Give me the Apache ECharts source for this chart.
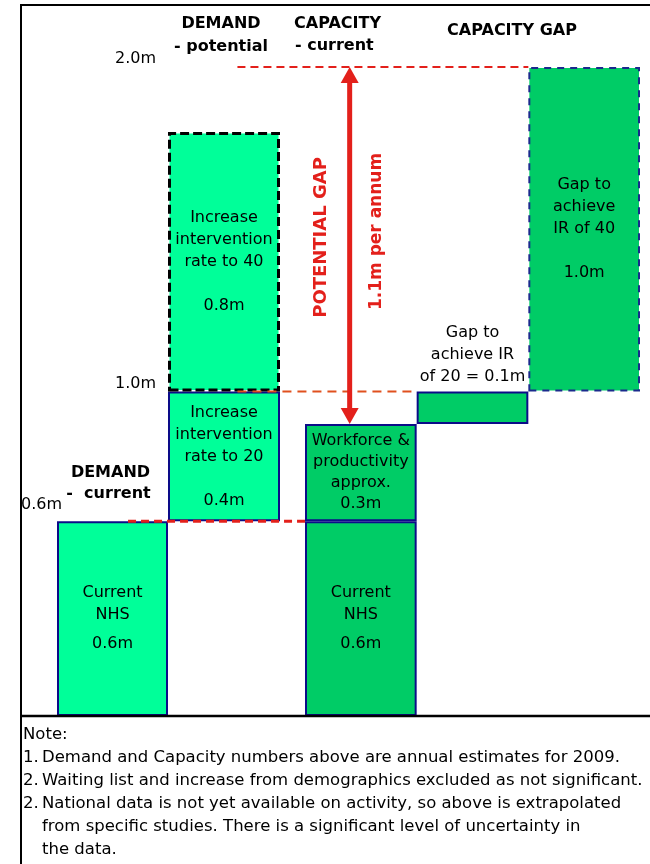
<!DOCTYPE html>
<html>
<head>
<meta charset="utf-8">
<script src="https://cdn.jsdelivr.net/npm/echarts@6/dist/echarts.min.js"></script>
<style>
  html, body { margin: 0; padding: 0; background: #fff; }
  #chart { width: 650px; height: 864px; }
</style>
</head>
<body>
<div id="chart"></div>
<script>
// Demand: current NHS activity, then the extra needed for intervention rates of 20 and 40
const demandCategories = ['Demand current', 'Demand potential'];
const demandSteps = ['Current NHS', 'Increase intervention rate to 20', 'Increase intervention rate to 40'];
const demandValues = [0.6, 0.4, 0.8];

// Capacity: current NHS, workforce & productivity, then the gaps to IR 20 and IR 40
const capacityCategories = ['Capacity current', 'Gap to IR 20', 'Gap to IR 40'];
const capacitySteps = ['Current NHS', 'Workforce & productivity', 'Gap to achieve IR of 20', 'Gap to achieve IR of 40'];
const capacityValues = [0.6, 0.3, 0.1, 1.0];

// Potential gap between current capacity and potential demand (per annum)
const potentialGap = [1.1];

// Tick labels on the value scale
const demandTicks = [0.6];
const potentialTicks = [1.0, 2.0];
const axisMax = 2.0;

const FONT = '"DejaVu Sans", "Liberation Sans", Arial, sans-serif';
const MINT = '#00FF99';
const GREEN = '#00CC66';
const NAVY = '#0C0C88';
const RED = '#E3201B';
const ORANGE = '#E0501E';

const GRID_TOP = 67;
const GRID_BOTTOM = 148;
const grids = [
  { left: 57, width: 111, top: GRID_TOP, bottom: GRID_BOTTOM },
  { left: 168, width: 112, top: GRID_TOP, bottom: GRID_BOTTOM },
  { left: 305, width: 335, top: GRID_TOP, bottom: GRID_BOTTOM }
];

const fmt = v => Number(v).toFixed(1) + 'm';

const labelBase = {
  show: true,
  position: 'inside',
  color: '#000',
  fontFamily: FONT,
  fontSize: 16,
  lineHeight: 22,
  rich: { half: { fontSize: 6, lineHeight: 7 } }
};

function barLabel(lines, sep, extra) {
  return Object.assign({}, labelBase, {
    formatter: p => lines.join('\n') + sep + fmt(p.value)
  }, extra || {});
}

const yBase = {
  type: 'value', min: 0, max: axisMax,
  axisLine: { show: false }, axisTick: { show: false }, splitLine: { show: false }
};
const tickLabel = { color: '#000', fontFamily: FONT, fontSize: 16, verticalAlign: 'bottom', formatter: fmt };

// Cumulative bases for the floating steps
const demandBase = [demandValues[0]];
const capacityBase = [
  0,
  capacityValues[0] + capacityValues[1],
  capacityValues[0] + capacityValues[1] + capacityValues[2]
];

const hidden = { color: 'transparent', borderWidth: 0 };

const option = {
  animation: false,
  backgroundColor: '#fff',
  grid: grids.map(g => Object.assign({ outerBoundsMode: 'none', containLabel: false }, g)),
  xAxis: [
    { type: 'category', gridIndex: 0, data: [demandCategories[0]], show: false },
    { type: 'category', gridIndex: 1, data: [demandCategories[1]], show: false },
    { type: 'category', gridIndex: 2, data: capacityCategories, show: false }
  ],
  yAxis: [
    Object.assign({}, yBase, { gridIndex: 0,
      axisLabel: Object.assign({}, tickLabel, { customValues: demandTicks, margin: -5, padding: [0, 0, 8, 0] }) }),
    Object.assign({}, yBase, { gridIndex: 1,
      axisLabel: Object.assign({}, tickLabel, { customValues: potentialTicks, margin: 12 }) }),
    Object.assign({}, yBase, { gridIndex: 2, axisLabel: { show: false } })
  ],
  series: [
    // Demand - current
    {
      type: 'bar', name: demandSteps[0], xAxisIndex: 0, yAxisIndex: 0, barWidth: '100%',
      data: [demandValues[0]],
      itemStyle: { color: MINT, borderColor: NAVY, borderWidth: 2 },
      label: barLabel(['Current', 'NHS'], '\n{half| }\n')
    },
    // Demand - potential (floating on top of current demand)
    {
      type: 'bar', name: 'base', xAxisIndex: 1, yAxisIndex: 1, stack: 'demand', barWidth: '100%',
      data: demandBase, itemStyle: hidden, silent: true, label: { show: false }
    },
    {
      type: 'bar', name: demandSteps[1], xAxisIndex: 1, yAxisIndex: 1, stack: 'demand', barWidth: '100%',
      data: [demandValues[1]],
      itemStyle: { color: MINT, borderColor: NAVY, borderWidth: 2 },
      label: barLabel(['Increase', 'intervention', 'rate to 20'], '\n \n')
    },
    {
      type: 'bar', name: demandSteps[2], xAxisIndex: 1, yAxisIndex: 1, stack: 'demand', barWidth: '100%',
      data: [demandValues[2]],
      itemStyle: { color: MINT, borderColor: '#000', borderWidth: 3, borderType: [9, 4] },
      label: barLabel(['Increase', 'intervention', 'rate to 40'], '\n \n')
    },
    // Capacity and the capacity gap
    {
      type: 'bar', name: 'base', xAxisIndex: 2, yAxisIndex: 2, stack: 'capacity', barWidth: '100%',
      data: capacityBase, itemStyle: hidden, silent: true, label: { show: false }
    },
    {
      type: 'bar', name: capacitySteps[0], xAxisIndex: 2, yAxisIndex: 2, stack: 'capacity', barWidth: '100%',
      data: [capacityValues[0], '-', '-'],
      itemStyle: { color: GREEN, borderColor: NAVY, borderWidth: 2 },
      label: barLabel(['Current', 'NHS'], '\n{half| }\n')
    },
    {
      type: 'bar', name: capacitySteps[1], xAxisIndex: 2, yAxisIndex: 2, stack: 'capacity', barWidth: '100%',
      data: [capacityValues[1], '-', '-'],
      itemStyle: { color: GREEN, borderColor: NAVY, borderWidth: 2 },
      label: barLabel(['Workforce &', 'productivity', 'approx.'], '\n', { lineHeight: 21 })
    },
    {
      type: 'bar', name: capacitySteps[2], xAxisIndex: 2, yAxisIndex: 2, stack: 'capacity', barWidth: '100%',
      data: ['-', capacityValues[2], '-'],
      itemStyle: { color: GREEN, borderColor: NAVY, borderWidth: 2 },
      label: barLabel(['Gap to', 'achieve IR', 'of 20 ='], ' ', { position: 'top', distance: 4 })
    },
    {
      type: 'bar', name: capacitySteps[3], xAxisIndex: 2, yAxisIndex: 2, stack: 'capacity', barWidth: '100%',
      data: ['-', '-', capacityValues[3]],
      itemStyle: { color: GREEN, borderColor: '#1A2A8C', borderWidth: 2, borderType: [7, 6] },
      label: barLabel(['Gap to', 'achieve', 'IR of 40'], '\n \n')
    }
  ]
};

const chart = echarts.init(document.getElementById('chart'), null, { renderer: 'canvas' });
chart.setOption(option);

// Annotations placed through the value scale of each grid
function text(x, y, str, font, fill, align, extra) {
  return Object.assign({
    type: 'text', z: 20,
    style: { x: x, y: y, text: str, font: font, fill: fill || '#000', align: align || 'center', verticalAlign: 'middle' }
  }, extra || {});
}
function hline(x1, x2, y, stroke, width, dash) {
  return { type: 'line', z: 15, shape: { x1: x1, y1: y, x2: x2, y2: y },
    style: { stroke: stroke, lineWidth: width, lineDash: dash || null } };
}

const px = (g, c, v) => chart.convertToPixel({ gridIndex: g }, [c, v]);
const band = grids[2].width / capacityCategories.length;
const capLeft = grids[2].left;

const demandTop = demandValues[0];
const demandMid = demandValues[0] + demandValues[1];
const capacityNow = capacityValues[0] + capacityValues[1];
const capacityFull = capacityValues.reduce((a, b) => a + b, 0);
const gapTop = capacityNow + potentialGap[0];

const [dcx, yDemandTop] = px(0, 0, demandTop);
const [, yDemandMid] = px(1, 0, demandMid);
const [, yCapFull] = px(2, 2, capacityFull);
const [, yCapNow] = px(2, 0, capacityNow);
const [, yGapTop] = px(2, 0, gapTop);

const lineStart0 = grids[0].left + grids[0].width * 0.64;
const lineStart1 = grids[1].left + grids[1].width * 0.62;

const ax = capLeft + band * 0.4;
const head = 16, halfHead = 9;
const midY = (yGapTop + yCapNow) / 2;

const BOLD16 = 'bold 16px ' + FONT;
const REG = '16.5px ' + FONT;

const graphics = [
  // Level guides
  hline(lineStart0, capLeft, yDemandTop, RED, 3, [8, 5]),
  hline(lineStart1, capLeft + band, yDemandMid, ORANGE, 2, [9, 6]),
  hline(lineStart1, capLeft + band * 2, yCapFull, RED, 2, [8, 5]),
  // Double-headed arrow for the potential gap
  { type: 'line', z: 16, shape: { x1: ax, y1: yGapTop + head - 1, x2: ax, y2: yCapNow - head + 1 },
    style: { stroke: RED, lineWidth: 5 } },
  { type: 'polygon', z: 16, shape: { points: [[ax, yGapTop], [ax - halfHead, yGapTop + head], [ax + halfHead, yGapTop + head]] },
    style: { fill: RED } },
  { type: 'polygon', z: 16, shape: { points: [[ax, yCapNow], [ax - halfHead, yCapNow - head], [ax + halfHead, yCapNow - head]] },
    style: { fill: RED } },
  text(ax - 28, midY - 8, 'POTENTIAL GAP', 'bold 18px ' + FONT, RED, 'center', { rotation: Math.PI / 2, x: 0, y: 0 }),
  text(ax + 27, midY - 14, fmt(potentialGap[0]) + ' per annum', 'bold 17px ' + FONT, RED, 'center', { rotation: Math.PI / 2 }),
  // Column headings
  text(221, 24, 'DEMAND', BOLD16),
  text(221, 47, '- potential', BOLD16),
  text(294, 24, 'CAPACITY', BOLD16, '#000', 'left'),
  text(295, 46, '- current', BOLD16, '#000', 'left'),
  text(512, 31, 'CAPACITY GAP', BOLD16),
  text(dcx - 2, yDemandTop - 48, 'DEMAND', BOLD16),
  text(dcx - 4, yDemandTop - 27, '-  current', BOLD16),
  // Frame
  { type: 'line', z: 30, shape: { x1: 21, y1: 5, x2: 650, y2: 5 }, style: { stroke: '#000', lineWidth: 2 } },
  { type: 'line', z: 30, shape: { x1: 21, y1: 4, x2: 21, y2: 864 }, style: { stroke: '#000', lineWidth: 2 } },
  { type: 'line', z: 30, shape: { x1: 21, y1: 716, x2: 650, y2: 716 }, style: { stroke: '#000', lineWidth: 2.5 } },
  // Notes
  text(23, 735, 'Note:', REG, '#000', 'left'),
  text(23, 758, '1.', REG, '#000', 'left'),
  text(42, 758, 'Demand and Capacity numbers above are annual estimates for 2009.', REG, '#000', 'left'),
  text(23, 781, '2.', REG, '#000', 'left'),
  text(42, 781, 'Waiting list and increase from demographics excluded as not significant.', REG, '#000', 'left'),
  text(23, 804, '2.', REG, '#000', 'left'),
  text(42, 804, 'National data is not yet available on activity, so above is extrapolated', REG, '#000', 'left'),
  text(42, 827, 'from specific studies. There is a significant level of uncertainty in', REG, '#000', 'left'),
  text(42, 850, 'the data.', REG, '#000', 'left')
];

// rotated texts are positioned through x/y of the element so they turn about their centre
graphics.forEach(g => {
  if (g.rotation) {
    g.x = g.style.x; g.y = g.style.y;
    g.style.x = 0; g.style.y = 0;
  }
});

chart.setOption({ graphic: graphics });
</script>
</body>
</html>
